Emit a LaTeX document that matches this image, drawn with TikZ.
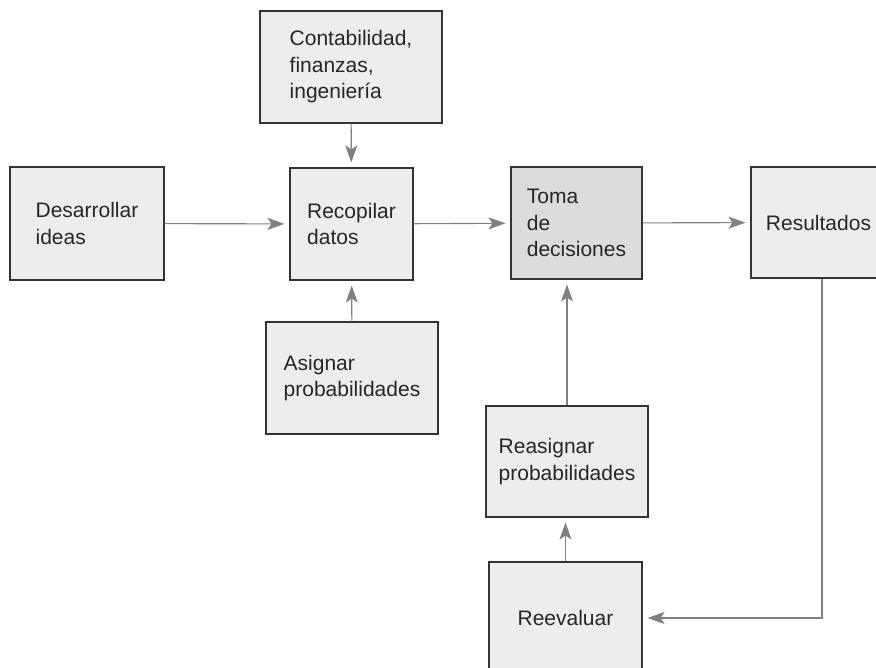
\documentclass[tikz,border=0pt]{standalone}
\usepackage{fontspec}
\setmainfont{Liberation Sans}
\usetikzlibrary{arrows.meta}
\definecolor{boxfill}{HTML}{EDEDED}
\definecolor{keyfill}{HTML}{DCDCDE}
\definecolor{boxline}{HTML}{333333}
\definecolor{flow}{HTML}{808080}

\begin{document}
\begin{tikzpicture}[x=1pt,y=-1pt,
  box/.style={draw=boxline,fill=boxfill,line width=1.1pt,inner sep=0pt,
    align=left,text=black!85,font=\fontsize{21}{26.5}\selectfont},
  flecha/.style={draw=flow,line width=1.1pt,shorten >=5pt,
    -{Stealth[length=17pt,width=12pt,inset=4pt]}}]
\useasboundingbox (0,0) rectangle (876,668);
\node[box,minimum width=182pt,minimum height=112pt] (contab) at (351,67) {Contabilidad,\\finanzas,\\ingeniería};
\node[box,minimum width=154pt,minimum height=113pt] (ideas) at (87,223.5) {Desarrollar\\ideas};
\node[box,minimum width=123pt,minimum height=112pt] (datos) at (351.5,224) {Recopilar\\datos};
\node[box,fill=keyfill,minimum width=131pt,minimum height=112pt] (toma) at (576.5,223) {Toma\\de\\decisiones};
\node[box,minimum width=135pt,minimum height=111pt] (result) at (818.5,222.5) {Resultados};
\node[box,minimum width=172pt,minimum height=112pt] (asignar) at (352,378) {Asignar\\probabilidades};
\node[box,minimum width=162pt,minimum height=111pt] (reasignar) at (567,461.5) {Reasignar\\probabilidades};
\node[box,minimum width=153pt,minimum height=112pt] (reevaluar) at (565.5,618) {Reevaluar};

\draw [flecha] (ideas) -- (datos);
\draw [flecha] (datos) -- (toma);
\draw [flecha] (toma) -- (result);
\draw [flecha] (contab) -- (datos);
\draw [flecha] (asignar) -- (datos);
\draw [flecha] (reasignar.north) -- (reasignar.north |- toma.south);
\draw [flecha] (reevaluar.north) -- (reevaluar.north |- reasignar.south);
\draw [flecha] ([xshift=3.5pt]result.south) |- (reevaluar.east);
\end{tikzpicture}
\end{document}
